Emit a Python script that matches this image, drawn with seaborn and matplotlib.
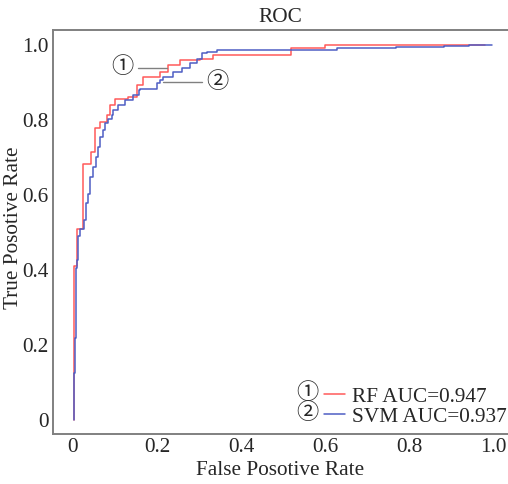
import matplotlib
matplotlib.use("Agg")
import matplotlib.pyplot as plt
import seaborn as sns
import pandas as pd
from matplotlib.lines import Line2D

# RF ROC (step points, vertical-first staircase)
rf_fpr = [0.002, 0.009, 0.023, 0.043, 0.052, 0.064, 0.081, 0.088, 0.100, 0.132,
          0.152, 0.167, 0.207, 0.227, 0.255, 0.302, 0.334, 0.520, 0.600, 0.980]
rf_tpr = [0.000, 0.410, 0.510, 0.683, 0.715, 0.778, 0.795, 0.813, 0.840, 0.856,
          0.862, 0.893, 0.914, 0.929, 0.947, 0.960, 0.964, 0.973, 0.991, 1.000]

# SVM ROC
svm_fpr = [0.002, 0.005, 0.007, 0.009, 0.012, 0.017, 0.025, 0.031, 0.036, 0.040,
           0.048, 0.055, 0.060, 0.064, 0.071, 0.076, 0.084, 0.092, 0.096, 0.108,
           0.124, 0.144, 0.156, 0.160, 0.199, 0.207, 0.215, 0.239, 0.259, 0.279,
           0.295, 0.306, 0.318, 0.342, 0.374, 0.629, 0.770, 0.883, 0.943, 0.998]
svm_tpr = [0.000, 0.125, 0.220, 0.405, 0.427, 0.490, 0.510, 0.533, 0.578, 0.604,
           0.649, 0.676, 0.702, 0.729, 0.756, 0.773, 0.791, 0.804, 0.813, 0.827,
           0.840, 0.853, 0.867, 0.880, 0.884, 0.898, 0.907, 0.916, 0.929, 0.938,
           0.951, 0.964, 0.978, 0.982, 0.988, 0.988, 0.991, 0.994, 0.997, 1.000]

labels = ["RF AUC=0.947", "SVM AUC=0.937"]
ticks = [0, 0.2, 0.4, 0.6, 0.8, 1.0]
tick_labels = ["0", "0.2", "0.4", "0.6", "0.8", "1.0"]

sns.set_style("white")
plt.rcParams['font.family'] = ['Liberation Serif', 'Noto Sans CJK SC', 'DejaVu Sans']

FS = 15.3
CFS = 16
red = '#ff5a5a'
blue = '#4e5ec4'
gray = '#808080'

fig = plt.figure(figsize=(5.08, 4.84), dpi=100)
ax = fig.add_axes([53/508, 50/484, 455/508, 404/484])

df_rf = pd.DataFrame({"fpr": rf_fpr, "tpr": rf_tpr})
df_svm = pd.DataFrame({"fpr": svm_fpr, "tpr": svm_tpr})
sns.lineplot(data=df_rf, x="fpr", y="tpr", sort=False, ax=ax, color=red,
             lw=1.1, drawstyle='steps-pre', estimator=None)
sns.lineplot(data=df_svm, x="fpr", y="tpr", sort=False, ax=ax, color=blue,
             lw=1.1, drawstyle='steps-pre', estimator=None)

ax.set_xlim((53-73)/420, (508-73)/420)
ax.set_ylim((420-434)/375, (420-30)/375)
ax.set_xticks(ticks)
ax.set_xticklabels(tick_labels)
ax.set_yticks(ticks)
ax.set_yticklabels(tick_labels)
ax.tick_params(direction='in', length=4, width=1, color=gray, labelsize=FS,
               pad=3)
for s in ['left', 'bottom', 'top']:
    ax.spines[s].set_color(gray)
    ax.spines[s].set_linewidth(1.4)
ax.spines['right'].set_visible(False)

ax.set_title("ROC", fontsize=FS, pad=6)
ax.set_xlabel("False Posotive Rate", fontsize=FS, labelpad=3)
ax.set_ylabel("True Posotive Rate", fontsize=FS)
ax.yaxis.set_label_coords(-0.066, 0.51)

# annotations
ax.plot([0.155, 0.224], [0.939, 0.939], color=gray, lw=1)
ax.plot([0.214, 0.307], [0.901, 0.901], color=gray, lw=1)
ax.text(0.117, 0.939, "①", ha='center', va='center', fontsize=CFS)
ax.text(0.343, 0.899, "②", ha='center', va='center', fontsize=CFS)

handles = [Line2D([0], [0], color=red, lw=1.1), Line2D([0], [0], color=blue, lw=1.1)]
leg = ax.legend(handles, labels, loc='lower left',
                bbox_to_anchor=((324-53)/455, 0.018), frameon=False,
                fontsize=FS, handlelength=1.0, handletextpad=0.3,
                borderpad=0, borderaxespad=0, labelspacing=0.0)
ax.text((307-73)/420, (420-394)/375, "①", ha='center', va='center', fontsize=CFS)
ax.text((307-73)/420, (420-414)/375, "②", ha='center', va='center', fontsize=CFS)

fig.savefig("out.png", dpi=100)
